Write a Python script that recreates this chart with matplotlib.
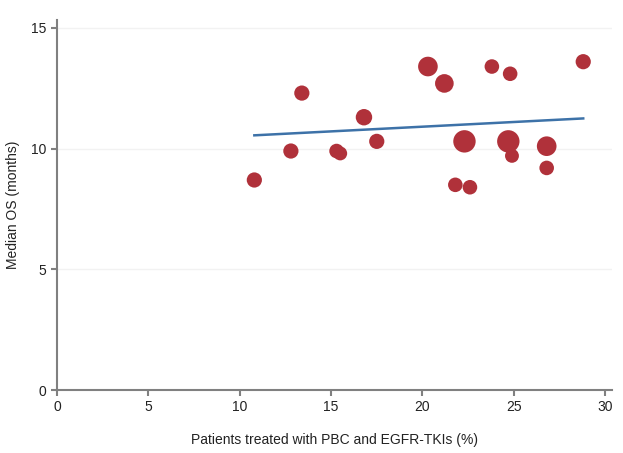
import matplotlib.pyplot as plt

plt.rcParams['font.family'] = ['Liberation Sans', 'DejaVu Sans']

# study data
pbc_pct = [10.8, 12.8, 13.4, 15.3, 15.5, 16.8, 17.5, 20.3, 21.2, 21.8, 22.6, 22.3,
           23.8, 24.8, 24.7, 24.9, 26.8, 26.8, 28.8]
median_os = [8.7, 9.9, 12.3, 9.9, 9.8, 11.3, 10.3, 13.4, 12.7, 8.5, 8.4, 10.3,
             13.4, 13.1, 10.3, 9.7, 10.1, 9.2, 13.6]
weight = [120, 120, 120, 110, 100, 140, 120, 200, 180, 110, 110, 260,
          110, 110, 260, 100, 200, 110, 120]

# regression line end points
fit_x = [10.8, 28.8]
fit_y = [10.55, 11.25]

fig = plt.figure(figsize=(6.23, 4.53), dpi=100)
ax = fig.add_axes([0.0915, 0.139, 0.891, 0.817])

for yv in [5, 10, 15]:
    ax.axhline(yv, color='#f2f2f2', lw=1, zorder=0)

ax.scatter(pbc_pct, median_os, s=weight, color='#b0313a', edgecolors='none', zorder=2)
ax.plot(fit_x, fit_y, color='#3d72a8', lw=1.8, zorder=3)

ax.set_xlim(0, 30.38)
ax.set_ylim(0, 15.33)
ax.set_xticks([0, 5, 10, 15, 20, 25, 30])
ax.set_yticks([0, 5, 10, 15])

for s in ['top', 'right']:
    ax.spines[s].set_visible(False)
for s in ['left', 'bottom']:
    ax.spines[s].set_color('#808080')
    ax.spines[s].set_linewidth(1.5)
ax.tick_params(colors='#808080', labelcolor='#222222', labelsize=10, length=4, width=1.5)

ax.set_xlabel('Patients treated with PBC and EGFR-TKIs (%)', fontsize=10, color='#222222', labelpad=13)
ax.set_ylabel('Median OS (months)', fontsize=10, color='#222222', labelpad=8)

fig.savefig('out.png', dpi=100)
